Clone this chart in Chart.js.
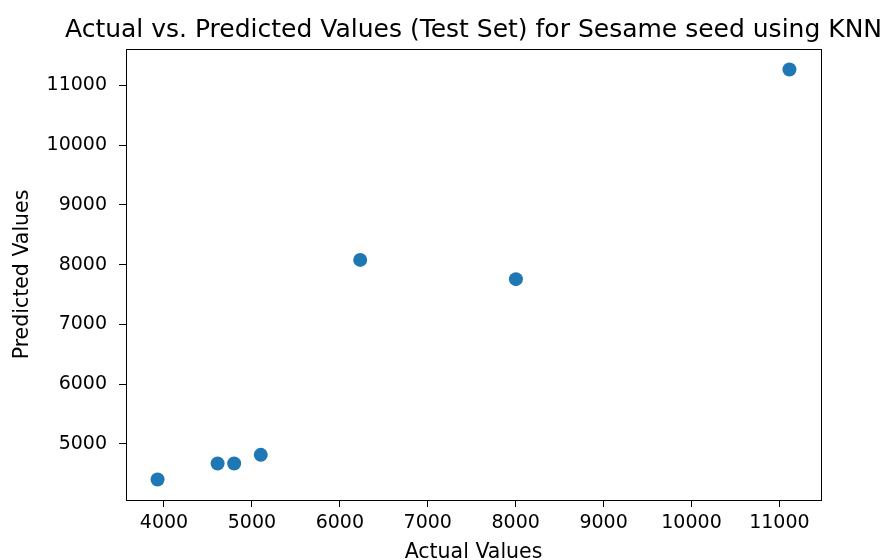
<!DOCTYPE html>
<html>
<head>
<meta charset="utf-8">
<script src="https://cdn.jsdelivr.net/npm/chart.js@4.4.1/dist/chart.umd.min.js"></script>
<style>
  html, body { margin: 0; padding: 0; background: #fff; }
  #wrap { width: 884px; height: 560px; }
</style>
</head>
<body>
<div id="wrap"><canvas id="scatterChart" width="884" height="560"></canvas></div>
<script>
// values
const actualValues = [3927, 4610, 4798, 5101, 6232, 8003, 11114];
const predictedValues = [4403, 4671, 4671, 4816, 8080, 7758, 11268];
const xTicks = [4000, 5000, 6000, 7000, 8000, 9000, 10000, 11000];
const yTicks = [5000, 6000, 7000, 8000, 9000, 10000, 11000];
const xRange = [3568, 11473];
const yRange = [4060, 11611];
const chartTitle = 'Actual vs. Predicted Values (Test Set) for Sesame seed using KNN';

const points = actualValues.map((x, i) => ({ x: x, y: predictedValues[i] }));

// matplotlib style box around the plot area + title centred over the axes
// (the built-in title squeezes text to the chart area width)
const axesPlugin = {
    id: 'axesBox',
    afterDraw(chart) {
        const { ctx, chartArea } = chart;
        ctx.save();
        ctx.strokeStyle = '#000';
        ctx.lineWidth = 1;
        ctx.strokeRect(chartArea.left + 0.5, chartArea.top + 0.5,
            chartArea.right - chartArea.left, chartArea.bottom - chartArea.top);

        ctx.fillStyle = '#000';
        ctx.font = '25px "DejaVu Sans"';
        ctx.textAlign = 'center';
        ctx.textBaseline = 'alphabetic';
        ctx.fillText(chartTitle, (chartArea.left + chartArea.right) / 2, 37);
        ctx.restore();
    }
};

const tickFont = { family: 'DejaVu Sans', size: 19 };
const labelFont = { family: 'DejaVu Sans', size: 20.5, lineHeight: 1.1 };

const ctx = document.getElementById('scatterChart');
new Chart(ctx, {
    type: 'scatter',
    data: {
        datasets: [{
            data: points,
            backgroundColor: '#1f77b4',
            borderWidth: 0,
            pointRadius: 7,
            pointHoverRadius: 7
        }]
    },
    options: {
        responsive: false,
        animation: false,
        events: [],
        layout: { padding: { left: 0, right: 63, top: 49, bottom: 0 } },
        plugins: {
            legend: { display: false },
            tooltip: { enabled: false },
            title: { display: false }
        },
        scales: {
            x: {
                type: 'linear',
                min: xRange[0],
                max: xRange[1],
                afterBuildTicks: (scale) => { scale.ticks = xTicks.map(v => ({ value: v })); },
                afterFit: (scale) => { scale.height = 60; },
                grid: { drawOnChartArea: false, drawTicks: true, tickLength: 7, tickColor: '#000' },
                border: { display: true, color: '#000' },
                ticks: { color: '#000', font: tickFont, padding: 5, maxRotation: 0, callback: v => String(v) },
                title: { display: true, text: 'Actual Values', color: '#000', font: labelFont, padding: { top: 0, bottom: -4 } }
            },
            y: {
                type: 'linear',
                min: yRange[0],
                max: yRange[1],
                afterBuildTicks: (scale) => { scale.ticks = yTicks.map(v => ({ value: v })); },
                afterFit: (scale) => { scale.width = 126; },
                grid: { drawOnChartArea: false, drawTicks: true, tickLength: 7, tickColor: '#000' },
                border: { display: true, color: '#000' },
                ticks: { color: '#000', font: tickFont, padding: 12, callback: v => String(v) },
                title: { display: true, text: 'Predicted Values', color: '#000', font: labelFont, padding: { top: 11, bottom: 0 } }
            }
        }
    },
    plugins: [axesPlugin]
});
</script>
</body>
</html>
